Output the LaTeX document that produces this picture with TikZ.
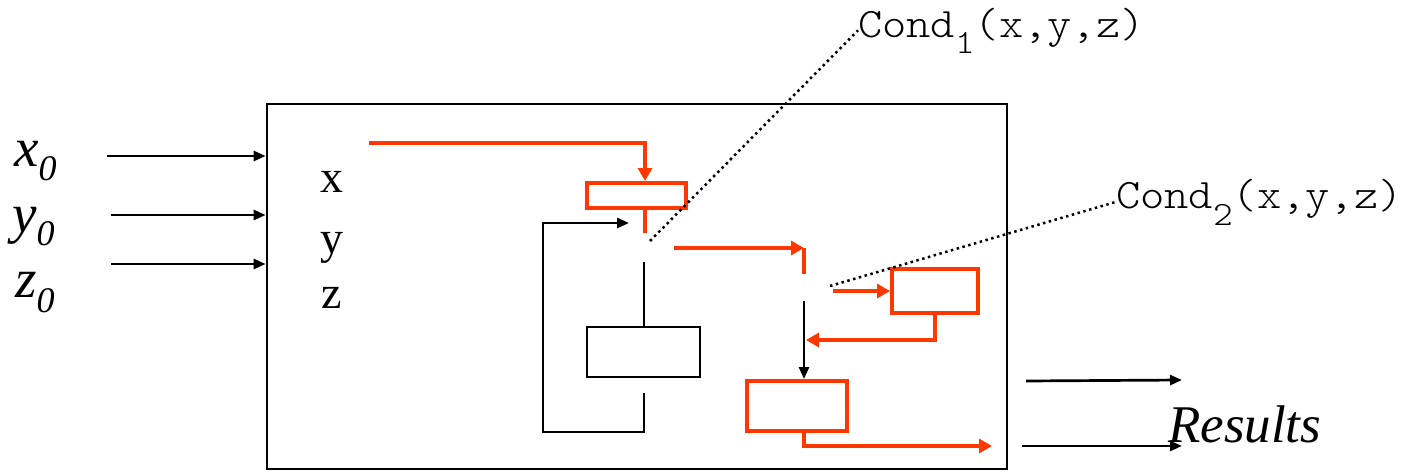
\documentclass[tikz,border=0pt]{standalone}
\usepackage{fontspec}
\setmainfont{Liberation Serif}
\newfontfamily\condfont{lmmonolt10-regular}[Extension=.otf, FakeStretch=1.1]
\usetikzlibrary{arrows.meta}
\definecolor{flowred}{RGB}{255,56,0}
\newcommand{\sublow}[3]{\raisebox{-#1pt}{\fontsize{#2}{#2}\selectfont #3}}
\tikzset{
  blackline/.style={line width=2.7pt, black},
  redline/.style={line width=4pt, flowred},
  blackarrow/.style={blackline, -{Triangle[length=12pt,width=10pt]}},
  redarrow/.style={redline, -{Triangle[length=13pt,width=14pt]}},
  blackbox/.style={draw, blackline, inner sep=0pt},
  redbox/.style={draw, redline, inner sep=0pt},
  guide/.style={line width=2.5pt, dash pattern=on 2.5pt off 3.5pt},
  inlabel/.style={inner sep=0pt, anchor=base west, font=\fontsize{55}{55}\selectfont\itshape},
  varlabel/.style={inner sep=0pt, anchor=base west, font=\fontsize{46}{46}\selectfont},
  condlabel/.style={inner sep=0pt, anchor=base west, font=\fontsize{42}{42}\condfont},
}
\begin{document}
\begin{tikzpicture}[x=1pt,y=-1pt]
  \useasboundingbox (0,0) rectangle (1410,471);
  % program box and its blocks
  \node[blackbox, minimum width=740pt, minimum height=365pt] (prog) at (637,286.5) {};
  \node[redbox, minimum width=99pt, minimum height=25pt] (test1) at (636.5,195.5) {};
  \node[blackbox, minimum width=113pt, minimum height=50pt] (body) at (643.5,352) {};
  \node[redbox, minimum width=86pt, minimum height=44pt] (test2) at (935,291) {};
  \node[redbox, minimum width=100pt, minimum height=50pt] (after) at (797,406) {};
  % texts
  \node[inlabel] (x0) at (14,166) {x\sublow{14}{36}{0}};
  \node[inlabel] (y0) at (12,232) {y\sublow{13}{36}{0}};
  \node[inlabel] (z0) at (15,297) {z\sublow{15}{36}{0}};
  \node[varlabel] (vx) at (320,192) {x};
  \node[varlabel] (vy) at (320,253) {y};
  \node[varlabel] (vz) at (321,308) {z};
  \node[inlabel, font=\fontsize{53}{53}\selectfont\itshape] (res) at (1168,442) {Results};
  \node[condlabel] (cond1) at (858,37) {Cond\sublow{16}{34}{1}(x,y,z)};
  \node[condlabel] (cond2) at (1116,208) {Cond\sublow{17}{34}{2}(x,y,z)};
  % connector ends
  \coordinate (x0s) at (107,156);
  \coordinate (y0s) at (111,215);
  \coordinate (z0s) at (111,264);
  \coordinate (xin) at (369,143);
  \coordinate (t1) at (645,233);
  \coordinate (f1) at (644,262);
  \coordinate (e1) at (644,393);
  \coordinate (lb) at (543,432);
  \coordinate (l1) at (629,223);
  \coordinate (g1) at (650,241);
  \coordinate (o1) at (674,248);
  \coordinate (j2) at (804,248);
  \coordinate (t2) at (804,274);
  \coordinate (f2) at (804,301);
  \coordinate (g2) at (830,286);
  \coordinate (o2) at (833,291);
  \coordinate (j3) at (806,340);
  \coordinate (out) at (992,446);
  \coordinate (r1s) at (1026,381);
  \coordinate (r1e) at (1182,380);
  \coordinate (r2s) at (1022,446);
  \coordinate (r2e) at (1182,446);
  \begin{scope}[blackarrow]
    \draw (x0s) -- (x0s -| prog.west);
    \draw (y0s) -- (y0s -| prog.west);
    \draw (z0s) -- (z0s -| prog.west);
    \draw (e1) |- (lb) |- (l1);
    \draw (f2) -- (f2 |- after.north);
    \draw (r1s) -- (r1e);
    \draw (r2s) -- (r2e);
  \end{scope}
  \draw[blackline] (f1) -- (f1 |- body.north);
  \draw[redarrow] (xin) -| (t1 |- test1.north);
  \draw[redline] (t1 |- test1.south) -- (t1);
  \draw[redarrow] (o1) -- (j2);
  \draw[redline] (j2) -- (t2);
  \draw[redarrow] (o2) -- (test2.west);
  \draw[redarrow] (test2.south) |- (j3);
  \draw[redarrow] (f2 |- after.south) |- (out);
  % dotted pointers
  \draw[guide] (g1) -- (cond1.west);
  \draw[guide] (g2) -- (cond2.west);
\end{tikzpicture}
\end{document}
